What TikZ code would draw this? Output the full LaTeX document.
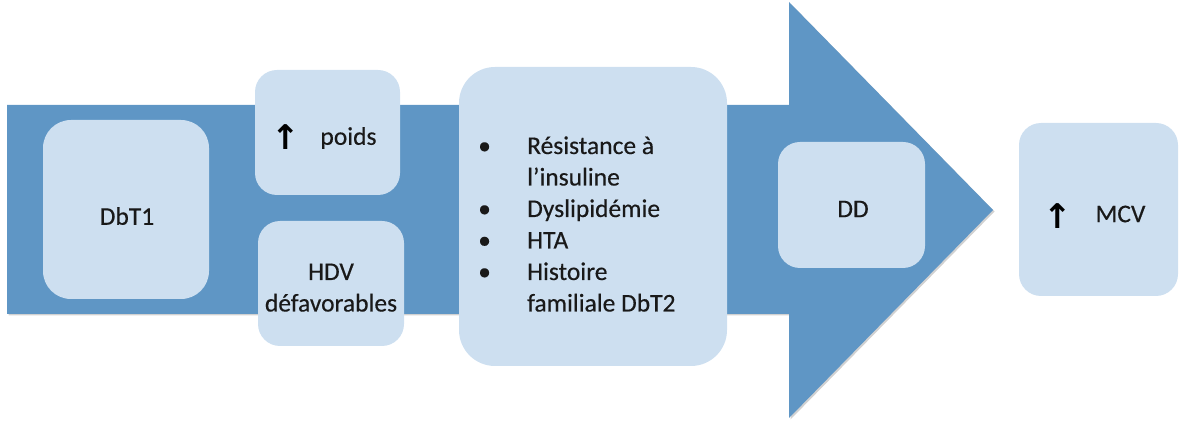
\documentclass[tikz,border=0pt]{standalone}
\usepackage{fontspec}
\setmainfont{Carlito}[FakeBold=0.4]
\newfontfamily\symfont{DejaVu Sans}
\usetikzlibrary{shadows}
\definecolor{bandblue}{RGB}{95,150,197}
\definecolor{boxblue}{RGB}{205,223,240}
\definecolor{ink}{RGB}{25,25,25}
\tikzset{
  softshadow/.style={drop shadow={shadow xshift=1.5pt, shadow yshift=-1.5pt, opacity=0.18, fill=black}},
  card/.style={draw=none, fill=boxblue, rounded corners=#1, inner sep=0pt},
  card/.default=22pt,
  label/.style={inner sep=0pt, text=ink, font=\fontsize{25.5}{31.5}\selectfont},
  uparrow/.style={inner sep=0pt, text=black, font=\symfont\bfseries\fontsize{34}{34}\selectfont},
}
\begin{document}
\begin{tikzpicture}[x=1pt, y=-1pt]
  \useasboundingbox (0,0) rectangle (1179,446);

  % the broad block arrow behind the cards
  \fill[bandblue, softshadow]
    (7,105) -- (789,105) -- (789,2) -- (993,210) -- (789,418) -- (789,314) -- (7,314) -- cycle;

  % cards
  \node[card=28pt, minimum width=166pt, minimum height=179pt] (dbt1) at (126,209.5) {};
  \node[card=22pt, minimum width=145pt, minimum height=125pt] (poids) at (327.5,132.5) {};
  \node[card=22pt, minimum width=146pt, minimum height=125pt] (hdv) at (331,283.5) {};
  \node[card=36pt, minimum width=268pt, minimum height=299pt] (risk) at (593,216.5) {};
  \node[card=22pt, minimum width=147pt, minimum height=126pt] (dd) at (851.5,205) {};
  \node[card=22pt, minimum width=159pt, minimum height=173pt] (mcv) at (1098.5,209.5) {};

  % texts
  \node[label] (dbt1text) at (127,216) {DbT1};

  \node[uparrow] (poidsarrow) at (286,137.5) {↑};
  \node[label] (poidstext) at (348.5,138) {poids};

  \node[label, anchor=base] (hdvtext) at (331,280)
    {\begin{tabular}[t]{@{}c@{}}HDV\\défavorables\end{tabular}};

  \node[label, anchor=base west] (risktext) at (478,154)
    {\begin{tabular}[t]{@{}p{49pt}@{}l@{}}
      • & Résistance à\\
        & l’insuline\\
      • & Dyslipidémie\\
      • & HTA\\
      • & Histoire\\
        & familiale DbT2
     \end{tabular}};

  \node[label] (ddtext) at (853,209) {DD};

  \node[uparrow] (mcvarrow) at (1058,216) {↑};
  \node[label] (mcvtext) at (1120.5,214) {MCV};
\end{tikzpicture}
\end{document}
